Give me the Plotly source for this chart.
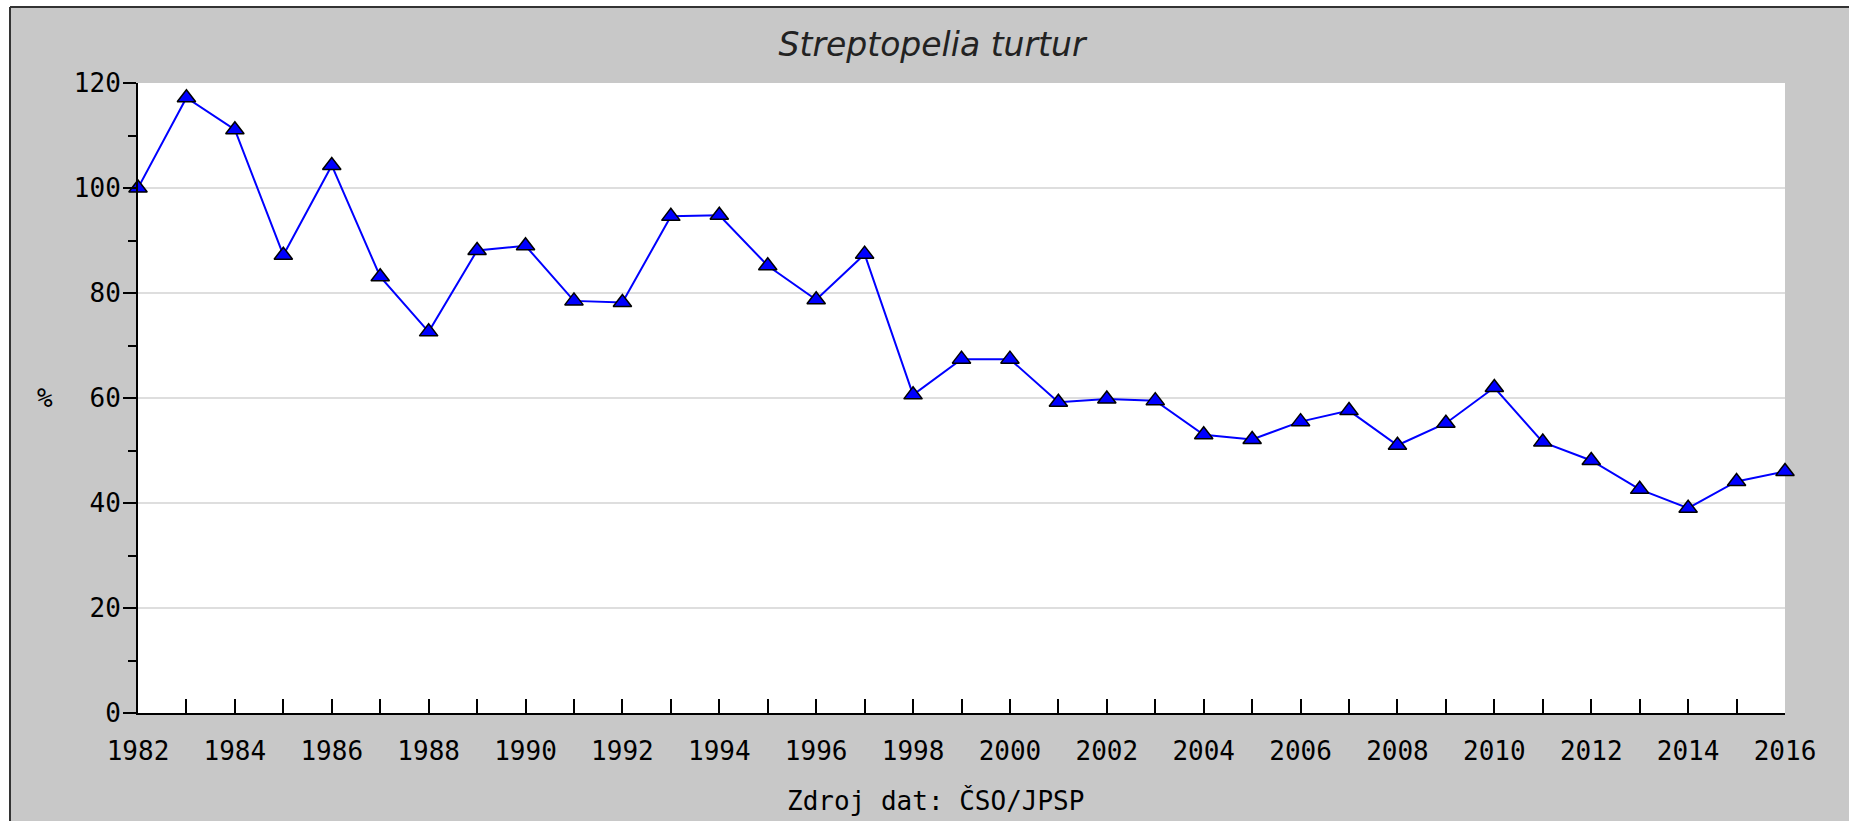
import plotly.graph_objects as go

# Index of Streptopelia turtur population (1982 = 100 %)
years = list(range(1982, 2017))
index_pct = [
    100.0, 117.2, 111.1, 87.2, 104.3, 83.1, 72.6, 88.1, 89.0, 78.5,
    78.2, 94.6, 94.8, 85.2, 78.7, 87.4, 60.6, 67.4, 67.4, 59.2,
    59.8, 59.5, 53.0, 52.1, 55.5, 57.6, 51.0, 55.2, 62.0, 51.6,
    48.1, 42.6, 39.0, 44.1, 46.0,
]
x_tick_step = 2
y_ticks = [0, 20, 40, 60, 80, 100, 120]

title_text = "Streptopelia turtur"
source_text = "Zdroj dat: ČSO/JPSP"
y_title = "%"

W, H = 1849, 821
ML, MR, MT, MB = 138, 64, 83, 108
PW, PH = W - ML - MR, H - MT - MB


def px_x(px):
    return (px - ML) / PW


def px_y(py):
    return (H - MB - py) / PH


GRAY = "#c8c8c8"
MONO = "DejaVu Sans Mono"

fig = go.Figure()
fig.add_trace(go.Scatter(
    x=years,
    y=index_pct,
    mode="lines+markers",
    line=dict(color="#0000ff", width=2),
    marker=dict(symbol="triangle-up", size=16, color="#0000ff",
                line=dict(color="black", width=1.5)),
    cliponaxis=False,
    showlegend=False,
))

axis_font = dict(family=MONO, size=26, color="black")

fig.update_xaxes(
    range=[years[0], years[-1]],
    dtick=x_tick_step,
    tick0=years[0],
    ticks="inside",
    ticklen=14,
    tickwidth=2,
    tickcolor="black",
    minor=dict(dtick=1, ticks="inside", ticklen=14, tickwidth=2,
               tickcolor="black", showgrid=False),
    showline=True,
    linecolor="black",
    linewidth=2,
    showgrid=False,
    zeroline=False,
    tickfont=axis_font,
    ticklabelstandoff=14,
)
fig.update_yaxes(
    range=[y_ticks[0], y_ticks[-1]],
    tickvals=y_ticks,
    ticks="outside",
    ticklen=13,
    tickwidth=2,
    tickcolor="black",
    minor=dict(dtick=10, ticks="outside", ticklen=8, tickwidth=2,
               tickcolor="black", showgrid=False),
    showline=True,
    linecolor="black",
    linewidth=2,
    showgrid=True,
    gridcolor="#dedede",
    gridwidth=2,
    zeroline=False,
    tickfont=axis_font,
    ticklabelstandoff=-3,
)

# white margin round the grey frame, and the frame's dark edge
shapes = [
    dict(type="rect", xref="paper", yref="paper", layer="below",
         x0=px_x(-5), x1=px_x(10), y0=px_y(H + 5), y1=px_y(-5),
         fillcolor="white", line=dict(width=0)),
    dict(type="rect", xref="paper", yref="paper", layer="below",
         x0=px_x(-5), x1=px_x(W + 5), y0=px_y(7), y1=px_y(-5),
         fillcolor="white", line=dict(width=0)),
    dict(type="line", xref="paper", yref="paper",
         x0=px_x(10), x1=px_x(10), y0=px_y(7), y1=px_y(H + 5),
         line=dict(color="#333333", width=2)),
    dict(type="line", xref="paper", yref="paper",
         x0=px_x(10), x1=px_x(W + 5), y0=px_y(7), y1=px_y(7),
         line=dict(color="#333333", width=2)),
]

annotations = [
    dict(text=y_title, xref="paper", yref="paper", x=px_x(45), y=0.5,
         showarrow=False, xanchor="center", yanchor="middle",
         font=dict(family=MONO, size=26, color="black")),
    dict(text=source_text, xref="paper", yref="paper", x=px_x(935),
         y=px_y(800), showarrow=False, xanchor="center", yanchor="middle",
         font=dict(family=MONO, size=26, color="black")),
]

fig.update_layout(
    width=W,
    height=H,
    margin=dict(l=ML, r=MR, t=MT, b=MB, autoexpand=False),
    paper_bgcolor=GRAY,
    plot_bgcolor="white",
    title=dict(text=title_text, x=932 / W, y=1 - 44 / H,
               xanchor="center", yanchor="middle", xref="container",
               yref="container",
               font=dict(family="DejaVu Sans", size=33, style="italic",
                         color="#222222")),
    shapes=shapes,
    annotations=annotations,
)

# drop the page's default body margin so the figure sits at (0, 0)
fig.write_html(
    "out.html",
    config={"displayModeBar": False},
    post_script="document.body.style.margin='0';"
                "document.body.style.overflow='hidden';",
)
